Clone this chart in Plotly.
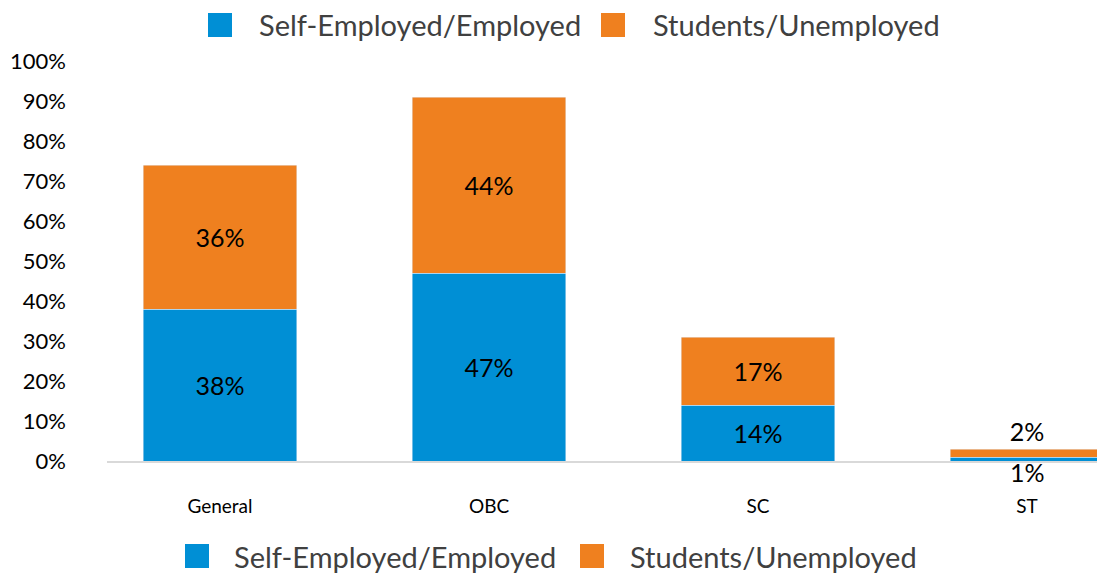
import plotly.graph_objects as go

categories = ['General', 'OBC', 'SC', 'ST']
employed = [38, 47, 14, 1]
students = [36, 44, 17, 2]
series_names = ['Self-Employed/Employed', 'Students/Unemployed']
series_colors = ['#008fd5', '#ef801f']
y_ticks = [0, 10, 20, 30, 40, 50, 60, 70, 80, 90, 100]

W, H = 1097, 573
L, R, T, B = 107, 0, 61, 112
FONT = 'Lato'


def px_x(x):
    return (x - L) / (W - L - R)


def px_y(y):
    return (H - B - y) / (H - T - B)


fig = go.Figure()
fig.add_trace(go.Bar(
    name=series_names[0], x=categories, y=employed,
    marker_color=series_colors[0], width=0.57,
    text=[f'{v}%' for v in employed],
    textposition=['inside', 'inside', 'inside', 'none'],
    insidetextanchor='middle',
    textfont=dict(family=FONT, size=25, color='#000000'),
    showlegend=False,
))
fig.add_trace(go.Bar(
    name=series_names[1], x=categories, y=students,
    marker_color=series_colors[1], width=0.57,
    text=[f'{v}%' for v in students],
    textposition=['inside', 'inside', 'inside', 'outside'],
    insidetextanchor='middle',
    textfont=dict(family=FONT, size=25, color='#000000'),
    outsidetextfont=dict(family=FONT, size=25, color='#000000'),
    cliponaxis=False,
    showlegend=False,
))

# ST's tiny blue segment: label below the baseline
fig.add_annotation(x=categories[-1], y=0, text=f'{employed[-1]}%', showarrow=False,
                   yanchor='middle', yshift=-11,
                   font=dict(family=FONT, size=25, color='#000000'))

# two legends drawn as squares + labels (top and bottom)
legend_rows = [
    (25, [208, 601], [257, 651]),
    (556, [185, 580], [232, 628]),
]
for cy, sq_x, txt_x in legend_rows:
    for i in range(2):
        fig.add_shape(type='rect', xref='paper', yref='paper',
                      x0=px_x(sq_x[i]), x1=px_x(sq_x[i] + 24),
                      y0=px_y(cy - 12), y1=px_y(cy + 12),
                      fillcolor=series_colors[i], line_width=0)
        fig.add_annotation(xref='paper', yref='paper', x=px_x(txt_x[i]), y=px_y(cy),
                           text=series_names[i], showarrow=False,
                           xanchor='left', yanchor='middle',
                           font=dict(family=FONT, size=29, color='#404040'))

fig.update_layout(
    barmode='stack', width=W, height=H,
    margin=dict(l=L, r=R, t=T, b=B),
    plot_bgcolor='white', paper_bgcolor='white',
    font=dict(family=FONT, color='#000000'),
    xaxis=dict(range=[-0.42, 3.26], showgrid=False, showline=True,
               linecolor='#d9d9d9', linewidth=2, ticks='',
               ticklabelstandoff=27, tickfont=dict(size=19, color='#000000')),
    yaxis=dict(range=[0, 100], tickvals=y_ticks, ticktext=[f'{v}%' for v in y_ticks],
               showgrid=False, zeroline=False, showline=False,
               ticklabelstandoff=40, tickfont=dict(size=22, color='#000000')),
)

# drop the default page margin so the figure fills the window exactly
fig.write_html('out.html', config={'displayModeBar': False},
               post_script="document.body.style.margin='0';document.body.style.overflow='hidden';")
